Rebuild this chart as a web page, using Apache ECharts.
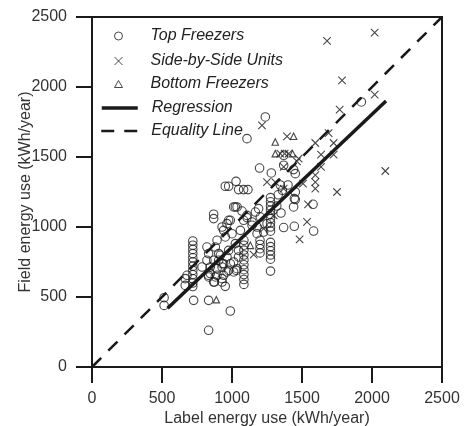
<!DOCTYPE html>
<html>
<head>
<meta charset="utf-8">
<script src="https://cdn.jsdelivr.net/npm/echarts@6/dist/echarts.min.js"></script>
<style>
  html, body { margin: 0; padding: 0; background: #fff; }
  #chart { width: 469px; height: 426px; }
</style>
</head>
<body>
<div id="chart"></div>
<script>
// label (x) vs field (y) energy use, kWh/year
var topFreezers = [
    [515, 495], [515, 440],
    [720, 900], [720, 870], [720, 840], [720, 810], [720, 780], [720, 750], [720, 720],
    [720, 690], [720, 660], [720, 630], [720, 600], [720, 575],
    [666, 631], [666, 583], [679, 655], [726, 476], [833, 476], [988, 400], [833, 262],
    [833, 643], [893, 655], [964, 679], [1031, 690], [874, 607], [952, 576], [929, 607], [869, 607],
    [1085, 905], [1085, 870], [1085, 835], [1085, 800], [1085, 765], [1085, 730], [1085, 695],
    [1085, 660], [1085, 625], [1085, 590],
    [1275, 1210], [1275, 1180], [1275, 1150], [1275, 1120], [1275, 1090], [1275, 1060],
    [1275, 1030], [1275, 1000], [1275, 970],
    [1275, 890], [1275, 860], [1275, 830], [1275, 800], [1275, 770], [1275, 685],
    [1200, 905], [1200, 875], [1200, 845], [1200, 815],
    [833, 810], [869, 762], [845, 714], [893, 702], [833, 655], [881, 643], [929, 738], [917, 798],
    [821, 857], [905, 762], [929, 714], [964, 786], [988, 738], [1012, 679], [1047, 833],
    [940, 655], [845, 667], [786, 714], [821, 762], [881, 857], [893, 905], [940, 976],
    [964, 1024], [988, 1048],
    [1036, 1143], [1071, 1114], [1083, 1048], [1107, 1067], [1143, 1036], [1167, 1107],
    [1190, 1131], [1179, 1000], [1202, 1071], [1226, 964], [1250, 1024],
    [1024, 1143], [1107, 1083], [1143, 1012], [1179, 952], [929, 1000], [976, 1048], [952, 929],
    [1000, 952], [1060, 976], [1024, 881], [976, 833], [905, 810], [940, 738], [1012, 750],
    [1047, 786], [976, 690], [1036, 702], [929, 631],
    [869, 1091], [869, 1060], [952, 1291], [976, 1291], [1029, 1326], [1047, 1267], [1083, 1267],
    [1114, 1267],
    [1197, 1421], [1281, 1386], [1107, 1631], [1238, 1786], [1440, 1410], [1452, 1381],
    [1452, 1250], [1452, 1196], [1440, 1143], [1012, 1143],
    [1369, 1512], [1369, 1441], [1445, 1203], [1579, 1162], [1369, 996], [1445, 1005],
    [1583, 971], [1924, 1893],
    [1345, 1300], [1360, 1262], [1330, 1230], [1320, 1150], [1350, 1100], [1400, 1300]
];
var sideBySide = [
    [1679, 2329], [2019, 2389], [1786, 2048], [2019, 1946], [1769, 1839], [1690, 1671],
    [1595, 1600], [1726, 1600], [1636, 1517], [1726, 1517], [2095, 1400], [1750, 1250],
    [1595, 1370], [1595, 1321], [1595, 1274], [1507, 1310], [1636, 1429], [1483, 912],
    [1536, 1036], [1543, 1162], [1476, 1489], [1393, 1648], [1214, 1726], [1345, 1524],
    [1376, 1524], [1405, 1524], [1464, 1469], [1369, 1429], [1250, 1321], [1309, 1321],
    [1369, 1274], [1155, 803], [1298, 1083], [1226, 988]
];
var bottomFreezers = [
    [888, 481], [1131, 869], [1309, 1607], [1440, 1648], [1309, 1524], [1433, 1524]
];
var regression = [[540, 420], [2100, 1900]];
var equality = [[0, 0], [2500, 2500]];
var legendNames = ['Top Freezers', 'Side-by-Side Units', 'Bottom Freezers', 'Regression', 'Equality Line'];

var chart = echarts.init(document.getElementById('chart'));
var font = 'Liberation Sans, Arial, Helvetica, sans-serif';
var ink = '#1a1a1a';
var hollow = { color: 'rgba(0,0,0,0)', borderColor: ink, borderWidth: 1.1 };

// one legend per row so the rows sit where the original puts them
var rowTops = [28, 53, 76, 100, 123];
var legends = legendNames.map(function (name, i) {
    var isLine = i >= 3;
    var w = isLine ? 36 : 8;
    return {
        data: [name],
        left: isLine ? 100 : 118 - w / 2,
        top: rowTops[i],
        padding: 0,
        itemWidth: w,
        itemHeight: i === 2 ? 7 : 8,
        selectedMode: false,
        // line rows: hide the dot ECharts puts in the middle of the line icon
        itemStyle: isLine ? { color: 'rgba(0,0,0,0)', borderWidth: 0 } : { borderWidth: 1 },
        lineStyle: { width: i === 3 ? 3.5 : 2.5 },
        formatter: function (n) { return '{t|' + n + '}'; },
        textStyle: {
            rich: {
                t: {
                    fontFamily: font,
                    fontSize: 16,
                    fontStyle: 'italic',
                    color: '#222',
                    padding: [0, 0, 0, isLine ? 9 : 23]
                }
            }
        }
    };
});

var axisCommon = {
    type: 'value',
    min: 0,
    max: 2500,
    interval: 500,
    nameLocation: 'middle',
    nameMoveOverlap: false,
    nameTextStyle: { fontFamily: font, fontSize: 16, color: '#333' },
    axisLine: { show: true, onZero: false, lineStyle: { color: ink, width: 2 } },
    axisTick: { show: true, inside: false, length: 16, lineStyle: { color: ink, width: 2 } },
    axisLabel: {
        fontFamily: font,
        fontSize: 16,
        color: '#333',
        formatter: function (v) { return String(v); }
    },
    splitLine: { show: false }
};

chart.setOption({
    animation: false,
    backgroundColor: '#fff',
    grid: {
        left: 92,
        right: 27,
        top: 17,
        bottom: 59,
        outerBoundsMode: 'none',
        containLabel: false,
        show: true,
        borderColor: ink,
        borderWidth: 2
    },
    legend: legends,
    xAxis: Object.assign({}, axisCommon, {
        name: 'Label energy use (kWh/year)',
        nameGap: 44,
        axisLabel: Object.assign({}, axisCommon.axisLabel, { margin: 24 })
    }),
    yAxis: Object.assign({}, axisCommon, {
        name: 'Field energy use (kWh/year)',
        nameGap: 58,
        axisLabel: Object.assign({}, axisCommon.axisLabel, { margin: 25 })
    }),
    series: [{
        name: 'Top Freezers',
        type: 'scatter',
        symbol: 'circle',
        symbolSize: 8.5,
        itemStyle: hollow,
        data: topFreezers
    }, {
        name: 'Side-by-Side Units',
        type: 'scatter',
        symbol: 'path://M0,0L10,10M10,0L0,10',
        symbolSize: 7.5,
        itemStyle: hollow,
        data: sideBySide
    }, {
        name: 'Bottom Freezers',
        type: 'scatter',
        symbol: 'triangle',
        symbolSize: 6.5,
        itemStyle: hollow,
        data: bottomFreezers
    }, {
        name: 'Regression',
        type: 'line',
        symbol: 'none',
        lineStyle: { color: ink, width: 3.5 },
        itemStyle: { color: ink },
        data: regression,
        z: 3
    }, {
        name: 'Equality Line',
        type: 'line',
        symbol: 'none',
        lineStyle: { color: ink, width: 2.5, type: [13, 10] },
        itemStyle: { color: ink },
        data: equality,
        z: 3
    }]
});
window.addEventListener('resize', function () {
    chart.resize();
});
</script>
</body>
</html>
